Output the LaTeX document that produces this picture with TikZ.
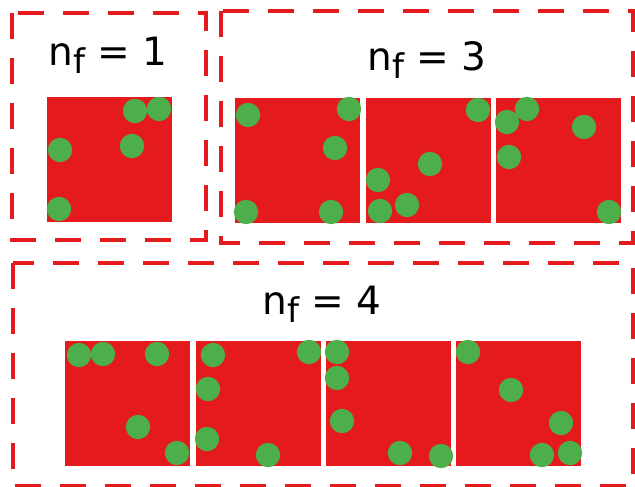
\documentclass[tikz,border=0pt]{standalone}
\usepackage{fontspec}
\setmainfont{DejaVu Sans}
\usepackage{xcolor}
\usepackage{tikz}

\definecolor{setred}{HTML}{E41A1C}
\definecolor{setgreen}{HTML}{4DAF4A}
\newcommand{\nsub}[1]{n\raisebox{-8pt}{\fontsize{34}{34}\selectfont #1}}

\tikzset{
  frame/.style={draw=setred, line width=3.2pt, dash pattern=on 26pt off 19pt},
  tile/.style={fill=setred, rectangle, minimum size=125pt, inner sep=0pt, outer sep=0pt},
  bead/.style={fill=setgreen},
  title/.style={font=\fontsize{39}{39}\selectfont, anchor=base, inner sep=0pt}
}

\begin{document}
\begin{tikzpicture}[x=1pt, y=-1pt]
\useasboundingbox (0,0) rectangle (635,487);

% groups
\draw[frame] (12,13) rectangle (206,240);
\draw[frame] (221,11) rectangle (633,243);
\draw[frame] (13,263) rectangle (633,486);

\node[title] (t1) at (108,66) {\nsub{f} = 1};
\node[title] (t3) at (427,71) {\nsub{f} = 3};
\node[title] (t4) at (322,314) {\nsub{f} = 4};

% tiles
\node[tile] (a1) at (109.5,159.5) {};
\node[tile] (b1) at (297.5,160.5) {};
\node[tile] (b2) at (428.5,160.5) {};
\node[tile] (b3) at (558.5,160.5) {};
\node[tile] (c1) at (127.5,403.5) {};
\node[tile] (c2) at (258.5,403.5) {};
\node[tile] (c3) at (388.5,403.5) {};
\node[tile] (c4) at (518.5,403.5) {};

% beads
\foreach \x/\y in {135/111, 159/109, 60/150, 132/146, 59/209,
                   248/115, 349/109, 335/148, 246/212, 331/212,
                   478/110, 430/164, 378/180, 380/211, 407/205,
                   507/122, 527/109, 584/127, 509/157, 609/212,
                   79/355, 103/354, 157/354, 138/427, 177/453,
                   213/355, 208/389, 207/439, 268/455, 309/352,
                   337/352, 337/378, 342/421, 400/453, 441/456,
                   468/352, 511/390, 561/423, 542/455, 570/453}
  \fill[bead] (\x,\y) circle (12.2pt);
\end{tikzpicture}
\end{document}
